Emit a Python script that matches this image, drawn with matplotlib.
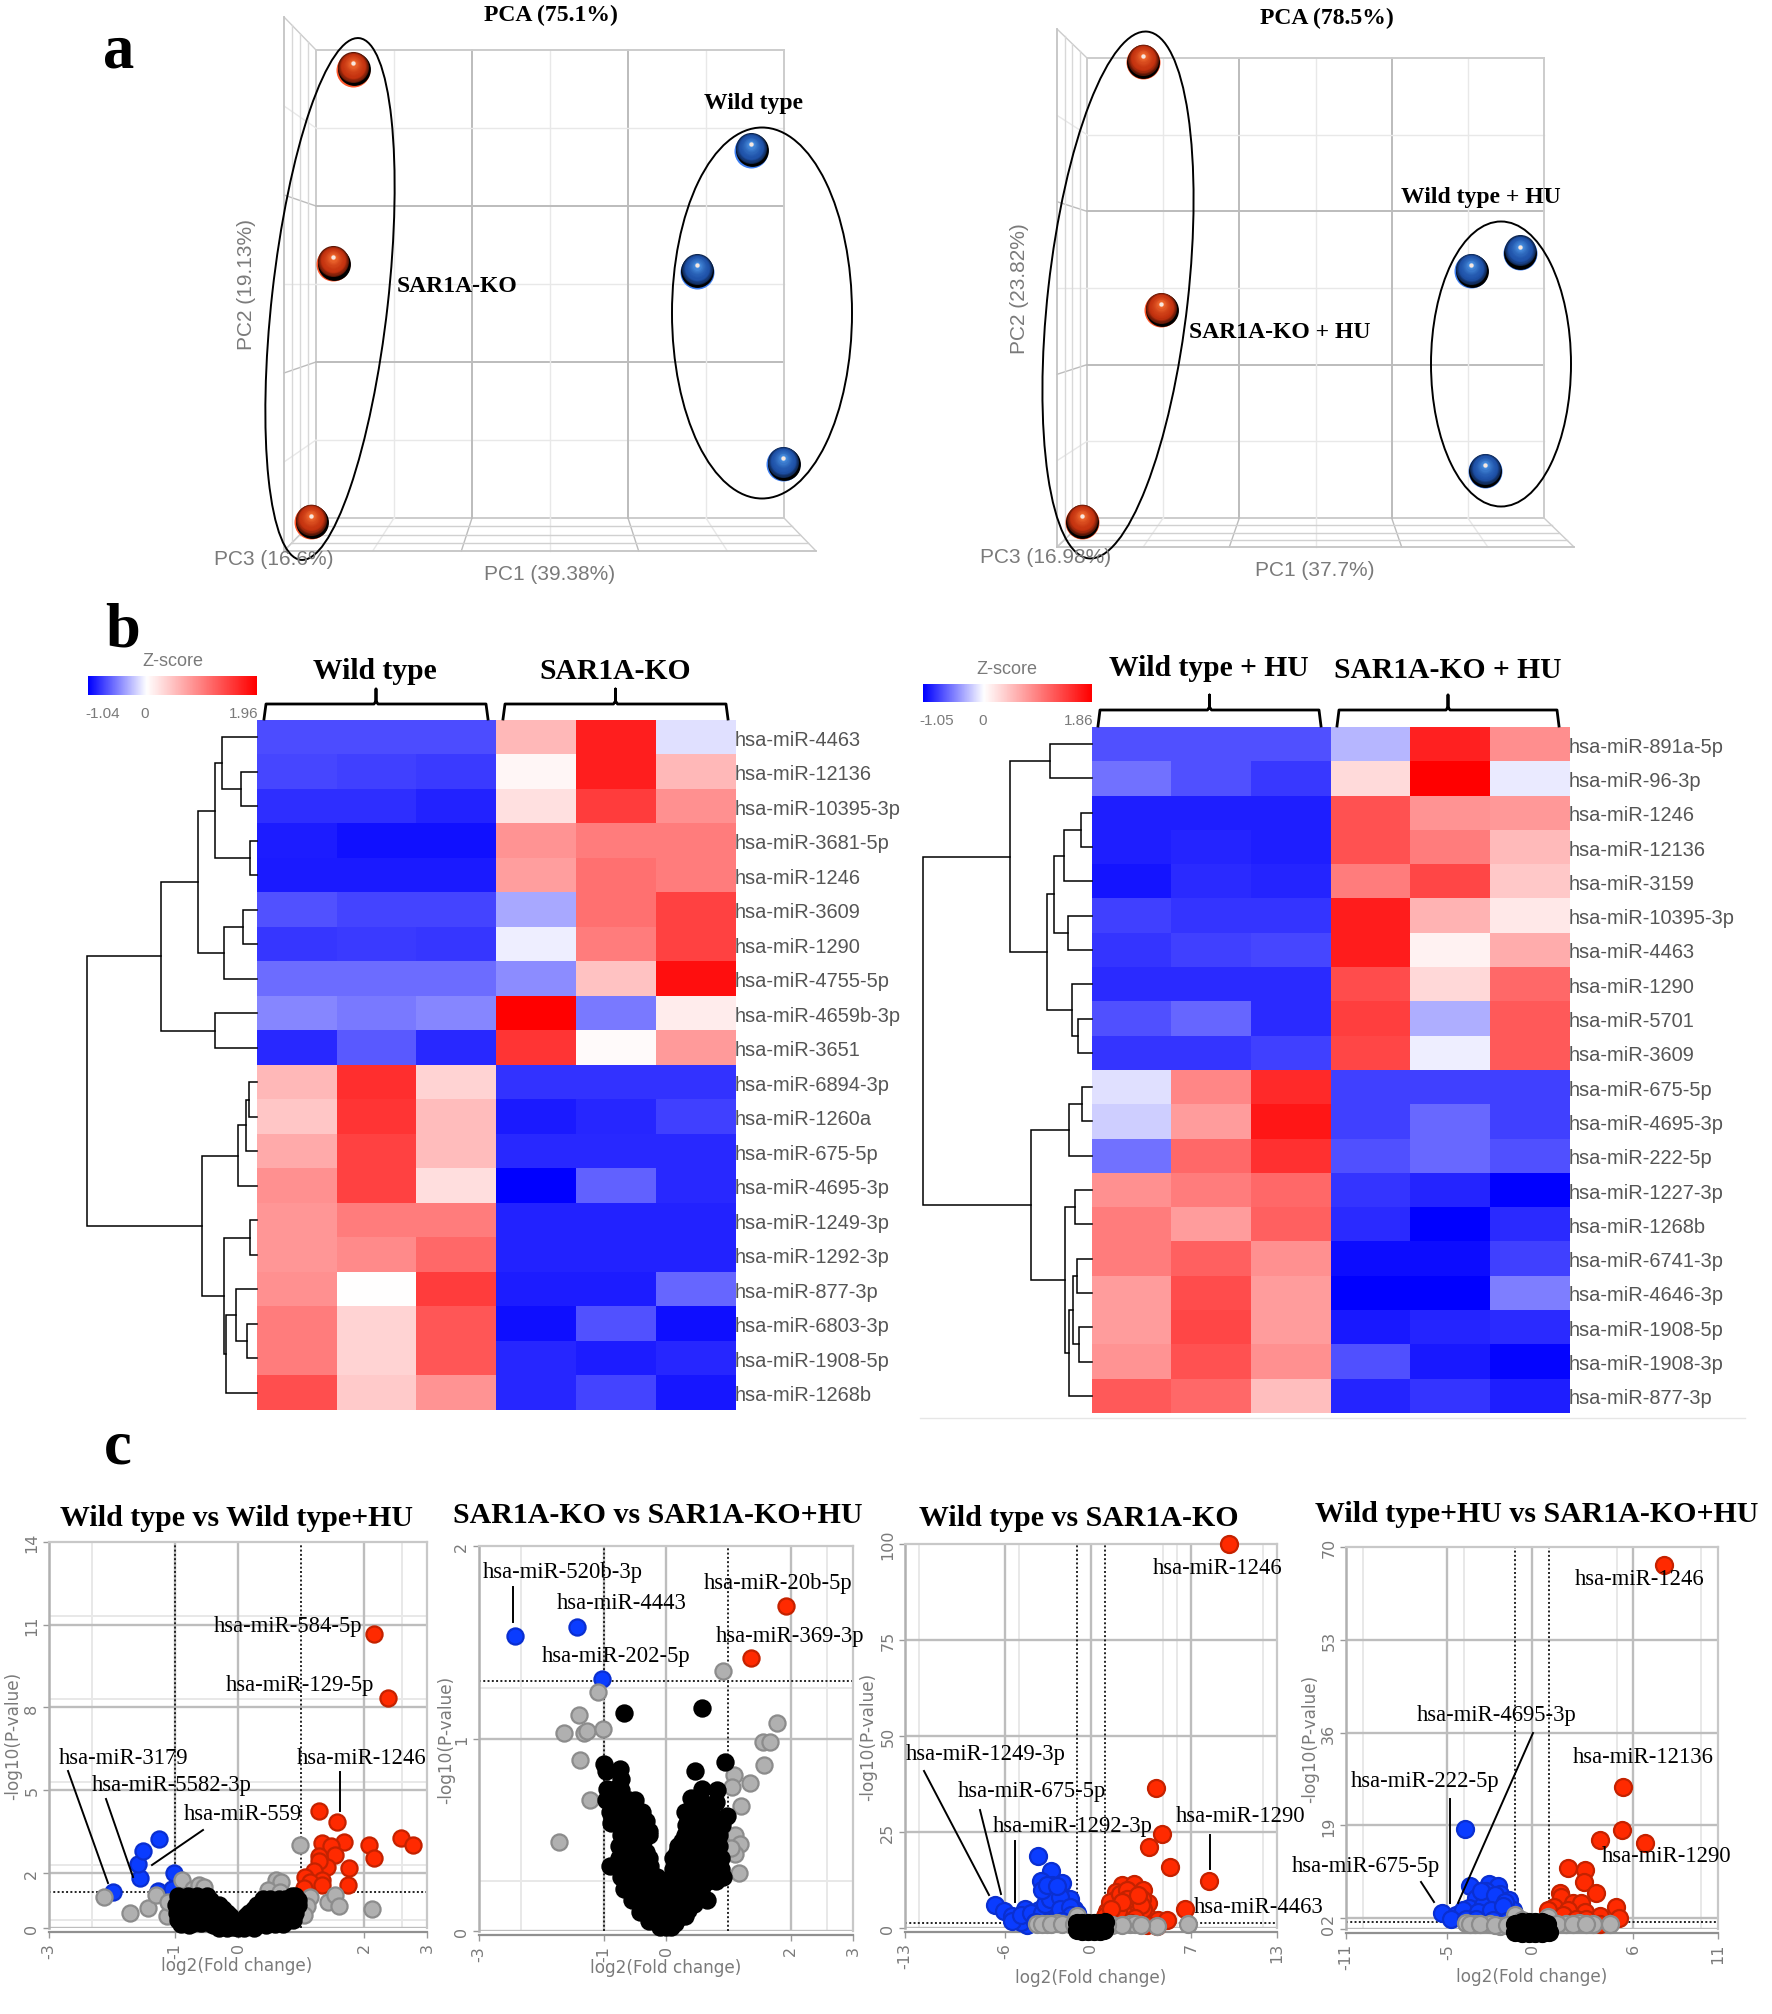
import numpy as np
import matplotlib
matplotlib.use("Agg")
import matplotlib.pyplot as plt
from matplotlib.colors import TwoSlopeNorm, to_rgb
from matplotlib.patches import Ellipse

W, H = 1772, 2015
SERIF = "Liberation Serif"
SANS = "Liberation Sans"
GREY = "#7a7a7a"

# --- panel a: PCA scores, in grid cells of the back wall ---
pca1_red_x = [0.48, 0.22, -0.06]
pca1_red_y = [5.75, 3.26, -0.05]
pca1_blue_x = [5.58, 4.88, 5.99]
pca1_blue_y = [4.71, 3.16, 0.69]
pca2_red_x = [0.73, 0.97, -0.07]
pca2_red_y = [5.95, 2.71, -0.05]
pca2_blue_x = [5.68, 5.04, 5.22]
pca2_blue_y = [3.46, 3.22, 0.61]

# --- panel b: z-scores ---
heat1_labels = ["hsa-miR-4463", "hsa-miR-12136", "hsa-miR-10395-3p", "hsa-miR-3681-5p", "hsa-miR-1246",
                "hsa-miR-3609", "hsa-miR-1290", "hsa-miR-4755-5p", "hsa-miR-4659b-3p", "hsa-miR-3651",
                "hsa-miR-6894-3p", "hsa-miR-1260a", "hsa-miR-675-5p", "hsa-miR-4695-3p", "hsa-miR-1249-3p",
                "hsa-miR-1292-3p", "hsa-miR-877-3p", "hsa-miR-6803-3p", "hsa-miR-1908-5p", "hsa-miR-1268b"]
heat1_values = [
    [-0.73, -0.73, -0.73, 0.55, 1.73, -0.13],
    [-0.75, -0.78, -0.80, 0.07, 1.73, 0.55],
    [-0.85, -0.85, -0.90, 0.24, 1.50, 0.85],
    [-0.92, -0.97, -0.97, 0.82, 1.00, 1.00],
    [-0.93, -0.93, -0.93, 0.75, 1.10, 1.00],
    [-0.70, -0.76, -0.76, -0.35, 1.10, 1.45],
    [-0.82, -0.80, -0.82, -0.07, 1.00, 1.45],
    [-0.60, -0.60, -0.60, -0.47, 0.47, 1.85],
    [-0.49, -0.54, -0.49, 1.96, -0.54, 0.14],
    [-0.87, -0.67, -0.87, 1.55, 0.04, 0.78],
    [0.55, 1.60, 0.33, -0.83, -0.83, -0.83],
    [0.43, 1.55, 0.52, -0.93, -0.88, -0.78],
    [0.65, 1.45, 0.52, -0.87, -0.87, -0.87],
    [0.85, 1.45, 0.25, -1.04, -0.64, -0.87],
    [0.80, 1.00, 1.00, -0.90, -0.90, -0.90],
    [0.80, 0.90, 1.15, -0.90, -0.90, -0.90],
    [0.85, 0.00, 1.50, -0.92, -0.92, -0.62],
    [1.00, 0.33, 1.30, -0.98, -0.70, -0.98],
    [1.00, 0.33, 1.30, -0.88, -0.92, -0.88],
    [1.35, 0.40, 0.82, -0.88, -0.76, -0.95],
]
heat2_labels = ["hsa-miR-891a-5p", "hsa-miR-96-3p", "hsa-miR-1246", "hsa-miR-12136", "hsa-miR-3159",
                "hsa-miR-10395-3p", "hsa-miR-4463", "hsa-miR-1290", "hsa-miR-5701", "hsa-miR-3609",
                "hsa-miR-675-5p", "hsa-miR-4695-3p", "hsa-miR-222-5p", "hsa-miR-1227-3p", "hsa-miR-1268b",
                "hsa-miR-6741-3p", "hsa-miR-4646-3p", "hsa-miR-1908-5p", "hsa-miR-1908-3p", "hsa-miR-877-3p"]
heat2_values = [
    [-0.72, -0.72, -0.72, -0.30, 1.62, 0.82],
    [-0.58, -0.72, -0.82, 0.27, 1.86, -0.09],
    [-0.92, -0.92, -0.92, 1.25, 0.78, 0.75],
    [-0.92, -0.90, -0.92, 1.25, 0.95, 0.50],
    [-0.96, -0.87, -0.90, 0.95, 1.35, 0.40],
    [-0.78, -0.83, -0.83, 1.65, 0.55, 0.17],
    [-0.83, -0.78, -0.76, 1.65, 0.10, 0.60],
    [-0.87, -0.87, -0.87, 1.30, 0.28, 1.10],
    [-0.72, -0.63, -0.87, 1.40, -0.33, 1.20],
    [-0.83, -0.83, -0.78, 1.35, -0.07, 1.20],
    [-0.13, 0.88, 1.55, -0.78, -0.78, -0.78],
    [-0.20, 0.72, 1.70, -0.78, -0.62, -0.78],
    [-0.58, 1.10, 1.50, -0.72, -0.62, -0.72],
    [0.80, 0.95, 1.10, -0.83, -0.90, -1.05],
    [0.95, 0.72, 1.15, -0.87, -1.05, -0.87],
    [0.95, 1.15, 0.80, -1.00, -1.00, -0.78],
    [0.72, 1.30, 0.72, -1.05, -1.05, -0.53],
    [0.72, 1.35, 0.72, -0.95, -0.90, -0.87],
    [0.78, 1.25, 0.80, -0.72, -0.95, -1.03],
    [1.20, 1.10, 0.47, -0.90, -0.83, -0.92],
]
# dendrograms as (height, left, right), leaves are row numbers
tree1 = (300, (170, (105, (75, (62, 0, (29, 1, 2)), (12, 3, 4)), (58, (24, 5, 6), 7)), (75, 8, 9)),
         (97, (34, (19, (14, 10, 11), 12), 13),
          (58, (12, 14, 15), (54, (37, 16, (17, 17, 18)), 19))))
tree2 = (300, (145, (74, 0, 1), (80, (68, (50, (20, 2, 3), 4), (42, 5, 6)), (35, 7, (24, 8, 9)))),
         (108, (40, (18, 10, 11), 12),
          (47, (30, 13, 14), (41, (34, (26, 15, 16), (23, 17, 18)), 19))))

# --- panel c: volcano plots ---
v1_red = [(2.16, 10.67), (2.38, 8.34), (1.29, 4.25), (1.57, 3.83), (2.58, 3.28), (2.77, 3.0), (2.08, 3.0),
          (2.16, 2.54), (1.76, 2.17), (1.75, 1.57), (1.69, 3.12), (1.33, 3.07), (1.47, 2.97), (1.54, 2.66),
          (1.29, 2.6), (1.41, 2.23), (1.29, 2.42), (1.2, 2.07), (1.06, 1.86), (1.33, 1.73), (1.15, 1.67),
          (1.05, 1.46), (1.33, 1.57)]
v1_blue = [(-1.99, 1.31), (-1.55, 1.82), (-1.59, 2.32), (-1.51, 2.79), (-1.26, 3.21), (-1.01, 1.98),
           (-1.27, 1.34), (-1.05, 1.43)]
v1_grey = [(-2.13, 1.13), (-1.72, 0.55), (-1.43, 0.71), (-1.13, 0.42), (-1.3, 1.2), (-1.11, 0.95), (-0.89, 1.73),
           (-0.72, 1.43), (-0.62, 1.57), (-0.54, 1.49), (0.98, 3.02), (0.61, 1.73), (0.69, 1.67), (0.48, 1.39),
           (0.66, 1.3), (1.15, 1.12), (1.09, 0.81), (1.05, 0.46), (1.43, 0.93), (1.54, 1.2), (1.61, 0.81), (2.12, 0.68)]
v1_black = [(-0.95, 1.15), (-0.8, 1.15), (-0.65, 1.15), (-0.5, 1.15),
            (-0.98, 0.85), (-0.85, 0.85), (-0.7, 0.85), (-0.55, 0.85), (-0.4, 0.85), (-0.3, 0.85),
            (-0.97, 0.55), (-0.85, 0.55), (-0.7, 0.55), (-0.55, 0.55), (-0.4, 0.55), (-0.28, 0.55), (-0.18, 0.55),
            (-0.95, 0.28), (-0.8, 0.28), (-0.65, 0.28), (-0.5, 0.28), (-0.35, 0.28), (-0.25, 0.28), (-0.15, 0.28),
            (-0.08, 0.28), (-0.4, 0.1), (-0.28, 0.1), (-0.18, 0.1), (-0.08, 0.05), (0.0, 0.0),
            (0.85, 1.15), (0.9, 1.15), (0.4, 1.05), (0.5, 1.05), (0.65, 1.05), (0.75, 1.05),
            (0.3, 0.85), (0.42, 0.85), (0.55, 0.85), (0.7, 0.85), (0.85, 0.85), (0.95, 0.85),
            (0.18, 0.55), (0.3, 0.55), (0.45, 0.55), (0.6, 0.55), (0.75, 0.55), (0.9, 0.55),
            (0.08, 0.28), (0.2, 0.28), (0.35, 0.28), (0.5, 0.28), (0.65, 0.28), (0.8, 0.28),
            (0.05, 0.08), (0.15, 0.1), (0.3, 0.1), (0.45, 0.1),
            (-0.88, 1.0), (-0.72, 1.0), (-0.58, 1.0), (-0.45, 1.0), (-0.9, 0.7), (-0.78, 0.7), (-0.62, 0.7), (-0.47, 0.7),
            (-0.34, 0.7), (-0.24, 0.7), (-0.9, 0.42), (-0.78, 0.42), (-0.62, 0.42), (-0.47, 0.42), (-0.33, 0.42),
            (-0.22, 0.42), (-0.12, 0.42), (-0.72, 0.18), (-0.58, 0.18), (-0.45, 0.18), (-0.3, 0.0), (-0.18, 0.0),
            (0.1, 0.0), (0.25, 0.0), (0.25, 0.7), (0.35, 0.7), (0.48, 0.7), (0.62, 0.7), (0.78, 0.7), (0.9, 0.7),
            (0.12, 0.42), (0.24, 0.42), (0.38, 0.42), (0.52, 0.42), (0.68, 0.42), (0.82, 0.42), (0.58, 0.14),
            (0.72, 0.14), (0.88, 0.28), (0.95, 1.0), (0.48, 0.98), (0.62, 0.98), (0.75, 0.95), (0.88, 1.0),
            (-0.9, 0.15), (-0.78, 0.12)]

v2_red = [(1.93, 1.69), (1.37, 1.42)]
v2_blue = [(-2.43, 1.53), (-1.42, 1.58), (-1.02, 1.31)]
v2_grey = [(0.91, 1.35), (-1.09, 1.24), (-1.39, 1.12), (-1.64, 1.03), (-1.32, 1.03), (-1.27, 1.04), (-1.01, 1.05),
           (-1.38, 0.89), (-1.22, 0.68), (-1.71, 0.46), (1.78, 1.08), (1.55, 0.98), (1.67, 0.98), (1.57, 0.86),
           (1.09, 0.81), (1.35, 0.77), (1.06, 0.75), (1.21, 0.65), (1.11, 0.5), (1.18, 0.45), (1.1, 0.4),
           (1.04, 0.43), (1.17, 0.3)]
v2_black = [(-0.67, 1.13), (0.58, 1.16), (-1.0, 0.87), (-0.97, 0.83), (-0.74, 0.84), (-0.72, 0.79), (-0.95, 0.74),
            (-0.82, 0.74), (-0.72, 0.73), (-0.8, 0.7), (-0.97, 0.68), (-0.9, 0.68), (-0.85, 0.65), (-0.6, 0.68),
            (-0.5, 0.68), (-0.9, 0.62), (-0.82, 0.6), (-0.52, 0.62), (-0.6, 0.6), (-0.32, 0.57), (-0.27, 0.52),
            (0.95, 0.88), (0.47, 0.83), (0.58, 0.74), (0.82, 0.73), (0.4, 0.69), (0.8, 0.67), (0.3, 0.62),
            (0.48, 0.65), (0.7, 0.62), (0.98, 0.6), (0.88, 0.58),
            (-0.72, 0.5), (-0.6, 0.5), (-0.48, 0.5), (-0.28, 0.5),
            (-0.75, 0.44), (-0.62, 0.44), (-0.5, 0.44), (-0.38, 0.44),
            (-0.75, 0.38), (-0.62, 0.38), (-0.5, 0.38), (-0.38, 0.38), (-0.27, 0.38),
            (-0.9, 0.34), (-0.75, 0.34), (-0.62, 0.34), (-0.5, 0.34), (-0.37, 0.34), (-0.25, 0.34),
            (-0.72, 0.28), (-0.6, 0.28), (-0.48, 0.28), (-0.36, 0.28), (-0.24, 0.28), (-0.14, 0.28),
            (-0.68, 0.22), (-0.56, 0.22), (-0.44, 0.22), (-0.32, 0.22), (-0.22, 0.22), (-0.12, 0.22),
            (-0.55, 0.16), (-0.44, 0.16), (-0.32, 0.16), (-0.22, 0.16), (-0.12, 0.16), (-0.05, 0.16),
            (-0.42, 0.1), (-0.3, 0.1), (-0.2, 0.1), (-0.1, 0.1), (-0.03, 0.1),
            (-0.28, 0.05), (-0.18, 0.05), (-0.08, 0.05), (0.0, 0.05), (-0.1, 0.02), (0.0, 0.02), (0.08, 0.02),
            (0.32, 0.55), (0.42, 0.55), (0.55, 0.55), (0.7, 0.55), (0.9, 0.55),
            (0.3, 0.5), (0.42, 0.5), (0.55, 0.5), (0.7, 0.5), (0.85, 0.5),
            (0.2, 0.44), (0.3, 0.44), (0.42, 0.44), (0.55, 0.44), (0.7, 0.44), (0.85, 0.44),
            (0.12, 0.38), (0.25, 0.38), (0.38, 0.38), (0.5, 0.38), (0.62, 0.38), (0.75, 0.38), (0.88, 0.38),
            (0.12, 0.32), (0.25, 0.32), (0.38, 0.32), (0.5, 0.32), (0.62, 0.32), (0.75, 0.32), (0.88, 0.32),
            (0.92, 0.28), (0.06, 0.26), (0.18, 0.26), (0.3, 0.26), (0.42, 0.26), (0.55, 0.26), (0.68, 0.26), (0.8, 0.26),
            (0.06, 0.2), (0.16, 0.2), (0.28, 0.2), (0.4, 0.2), (0.52, 0.2), (0.65, 0.16),
            (0.03, 0.14), (0.14, 0.14), (0.25, 0.14), (0.35, 0.14), (0.45, 0.14),
            (0.03, 0.08), (0.12, 0.08), (0.22, 0.08), (0.3, 0.08), (0.05, 0.04), (0.15, 0.04),
            (-0.88, 0.56), (-0.75, 0.62), (-0.68, 0.66), (-0.45, 0.6), (-0.38, 0.62), (-0.72, 0.56), (-0.6, 0.55),
            (-0.5, 0.56), (-0.42, 0.5), (-0.35, 0.48), (-0.66, 0.47), (-0.54, 0.47), (-0.42, 0.47), (-0.68, 0.41),
            (-0.56, 0.41), (-0.44, 0.41), (-0.32, 0.41), (-0.68, 0.31), (-0.56, 0.31), (-0.44, 0.31), (-0.3, 0.31),
            (-0.62, 0.25), (-0.5, 0.25), (-0.38, 0.25), (-0.26, 0.25), (-0.5, 0.19), (-0.38, 0.19), (-0.27, 0.19),
            (-0.17, 0.19), (-0.36, 0.13), (-0.25, 0.13), (-0.15, 0.13), (-0.07, 0.13), (-0.24, 0.07), (-0.14, 0.07),
            (-0.05, 0.07), (0.35, 0.58), (0.45, 0.6), (0.55, 0.62), (0.62, 0.66), (0.75, 0.58), (0.85, 0.56),
            (0.36, 0.53), (0.48, 0.53), (0.62, 0.53), (0.78, 0.53), (0.25, 0.47), (0.36, 0.47), (0.48, 0.47),
            (0.62, 0.47), (0.78, 0.47), (0.18, 0.41), (0.31, 0.41), (0.44, 0.41), (0.56, 0.41), (0.68, 0.41),
            (0.82, 0.41), (0.18, 0.35), (0.31, 0.35), (0.44, 0.35), (0.56, 0.35), (0.68, 0.35), (0.82, 0.35),
            (0.12, 0.29), (0.24, 0.29), (0.36, 0.29), (0.48, 0.29), (0.62, 0.29), (0.74, 0.29), (0.11, 0.23),
            (0.22, 0.23), (0.34, 0.23), (0.46, 0.23), (0.58, 0.23), (0.09, 0.17), (0.2, 0.17), (0.3, 0.17),
            (0.4, 0.17), (0.5, 0.17), (0.08, 0.11), (0.18, 0.11), (0.28, 0.11), (0.36, 0.11), (0.09, 0.06), (0.18, 0.06)]

v3_red = [(9.65, 100), (4.56, 36.4), (4.95, 24.4), (4.02, 21.2), (5.49, 15.8), (8.28, 12.2), (6.58, 5),
          (2.14, 11.3), (3.02, 11.4), (3.65, 10), (1.74, 9.3), (2.88, 8.4), (1.67, 7.4), (4, 6.4), (2.49, 5.8),
          (3.14, 4.4), (1.09, 4.4), (1.56, 3.1), (1.9, 2.7), (3.88, 3.1), (4.7, 2.2), (5.33, 2.2), (2.95, 6.7),
          (1.33, 6.7), (2.02, 8.9), (3.53, 7.6), (2.49, 9.8), (3.88, 0.9), (4.58, 0.4), (3.65, 4.9),
          (2.4, 3.5), (3.0, 2.2), (1.2, 2.0), (2.2, 1.5), (1.0, 3), (1.9, 4.5), (2.5, 7.5), (3.5, 6), (3.1, 2.7),
          (2.8, 1.2), (3.3, 8.5), (2.2, 6.9), (1.4, 5)]
v3_blue = [(-3.7, 18.8), (-2.81, 14.8), (-3.49, 12.2), (-2.72, 11.3), (-2.05, 11.6), (-2.12, 6.7), (-6.7, 6),
           (-6.07, 4.3), (-5.07, 2.7), (-4.58, 4.9), (-3.6, 4.7), (-2.63, 8), (-1.47, 7.6), (-1.19, 4.9), (-2.98, 4.9),
           (-2.28, 9.3), (-3.09, 8.9), (-1.93, 5.8), (-5.53, 3.1), (-4.49, 0.9), (-4.02, 2.2), (-2.63, 3.1),
           (-1.7, 3.1), (-1, 4), (-0.77, 2.2), (-3.33, 2.7), (-2.05, 4), (-4.9, 1.6), (-3.0, 6.5), (-1.2, 2.0),
           (-5.5, 1.8), (-4.9, 3.5), (-4.2, 3.8), (-3.4, 3.8), (-3.2, 6.3), (-2.9, 7.5), (-2.2, 8.0), (-2.2, 4.9),
           (-1.5, 5.5), (-1.4, 3.5), (-3.4, 9.9), (-3.1, 11.2), (-2.4, 11), (-3.9, 1.5), (-3, 1.5), (-2, 1.8)]
v3_grey = [(-3.8, 1.0), (-3.1, 1.0), (-2.4, 1.2), (-1.5, 1.0), (-1.0, 3.0), (-0.3, 1.4), (1.5, 0.8), (2.7, 1.1),
           (3.1, 1.1), (4.6, 0.5), (6.8, 1.1), (-3.45, 1), (-2.8, 1.1), (-2, 1), (-1.2, 1), (2.2, 0.9), (3.5, 0.8), (1.1, 0.7)]
v3_black = [(-1.0, 1.2), (-0.6, 1.4), (-0.2, 1.2), (0.2, 1.4), (0.6, 1.4), (1.0, 1.6), (-1.0, -0.6), (-0.6, -0.8),
            (-0.2, -0.8), (0.2, -0.8), (0.6, -0.8), (0.9, -0.6), (-0.8, 0.3), (-0.3, 0.3), (0.3, 0.3), (0.8, 0.3)]

v4_red = [(7.83, 66.7), (5.37, 26.1), (5.33, 18.2), (4.04, 16.3), (6.69, 15.8), (2.11, 11.1), (3.15, 10.8),
          (3.07, 8.6), (3.78, 6.6), (1.65, 6.6), (1.71, 5.9), (1.32, 4.1), (0.93, 3.4), (2.4, 4.7), (2.89, 4.7),
          (2.11, 3.4), (3.15, 3.1), (4.96, 4), (5.16, 2.1), (4.04, 2.3), (1.81, 2.5), (2.6, 1.9), (3.19, 1.9), (4.04, 0.9)]
v4_blue = [(-3.96, 18.4), (-5.33, 3), (-4.49, 2.5), (-3.64, 7.8), (-2.56, 8.25), (-1.99, 7.9), (-3.3, 5.75),
           (-1.89, 6.4), (-2.72, 6.9), (-2.32, 4.8), (-1.34, 5.3), (-3.7, 3.9), (-2.91, 4.4), (-2.03, 3), (-1.14, 3.4),
           (-4.09, 3.4), (-4.78, 1.9), (-1.34, 0.9), (-2.72, 2.5), (-1.54, 3.1), (-3.0, 7.0), (-2.2, 6.3), (-1.6, 5.0),
           (-3.2, 3.2), (-2.4, 3.4), (-1.7, 4.2), (-3.9, 1.8), (-3.3, 1.8), (-2.3, 1.7), (-1.5, 1.5), (-1, 2)]
v4_grey = [(-3.9, 1.1), (-3.4, 0.9), (-2.5, 0.9), (-1.9, 0.6), (-0.98, 2.5), (-0.6, 1.6), (0.93, 2.2), (0.5, 1.3),
           (2.0, 0.9), (2.8, 1.1), (3.6, 0.9), (4.6, 0.9), (-3.65, 0.9), (-3.1, 1.0), (-2.2, 0.8), (-1.5, 0.8),
           (1.5, 0.9), (2.4, 1), (3.2, 1)]
v4_black = [(-1.0, 1.0), (-0.6, 1.3), (-0.2, 1.3), (0.2, 1.3), (0.6, 1.2), (0.9, 0.9), (-1.0, -0.5), (-0.6, -0.7),
            (-0.2, -0.8), (0.2, -0.8), (0.6, -0.7), (1.0, -0.5), (-0.7, 0.3), (-0.2, 0.3), (0.3, 0.3), (0.8, 0.3)]

fig = plt.figure(figsize=(W / 100, H / 100), dpi=100, facecolor="white")


def axes_px(left, top, right, bottom, **kw):
    return fig.add_axes([left / W, 1 - bottom / H, (right - left) / W, (bottom - top) / H], **kw)


over = fig.add_axes([0, 0, 1, 1], zorder=20)
over.set_xlim(0, W)
over.set_ylim(H, 0)
over.axis("off")
over.patch.set_alpha(0)


def serif(x, y, s, size=17, bold=True, ha="center", rotation=0):
    over.text(x, y, s, family=SERIF, fontweight="bold" if bold else "normal", fontsize=size,
              ha=ha, va="center", color="black", rotation=rotation)


def sans(x, y, s, size=15, color=GREY, rotation=0, ha="center"):
    over.text(x, y, s, family=SANS, fontsize=size, ha=ha, va="center", color=color, rotation=rotation)


def sphere(ax, xs, ys, base, light):
    base = np.array(to_rgb(base))
    light = np.array(to_rgb(light))
    ys = np.array(ys)
    ax.scatter(xs, ys, s=600, color=np.clip(base * 1.3 + 0.1, 0, 1), linewidths=0, zorder=5, clip_on=False)
    ax.scatter(np.array(xs) + 0.01, ys + 0.002, s=560, color="black", linewidths=0, zorder=5, clip_on=False)
    for t in np.linspace(0, 1, 14):
        col = base * (0.45 + 0.55 * min(t * 3, 1)) + (light - base) * t ** 3
        ax.scatter(xs, ys + 0.03 + 0.05 * t, s=480 * (1 - t) ** 1.2 + 20,
                   color=np.clip(col, 0, 1), linewidths=0, zorder=6, clip_on=False)
    ax.scatter(xs, ys + 0.08, s=10, color="#f8e8e0", linewidths=0, zorder=7, clip_on=False)


def pca_box(box, wall_dx, top_dy, bottom_dy, floor_dx, red, blue):
    left, top, right, bottom = box
    ax = axes_px(left, top, right, bottom)
    ax.set_xlim(0, 6)
    ax.set_ylim(0, 6)
    ax.axis("off")
    cell_x = (right - left) / 6
    cell_y = (bottom - top) / 6
    lx, by = -wall_dx / cell_x, -bottom_dy / cell_y
    ty = 6 + top_dy / cell_y
    rx = 6 + floor_dx / cell_x
    for i in range(7):
        heavy = i in (2, 4)
        outer = i in (0, 6)
        col = "#bcbcbc" if heavy else ("#cccccc" if outer else "#e8e8e8")
        lw = 1.4 if heavy or outer else 1.0
        ax.plot([i, i], [0, 6], color=col, lw=lw, clip_on=False, zorder=1)
        ax.plot([0, 6], [i, i], color=col, lw=lw, clip_on=False, zorder=1)
        # receding side wall and floor
        ax.plot([0, lx], [i, by + (ty - by) * i / 6], color=col, lw=1, clip_on=False, zorder=1)
        ax.plot([i, lx + (rx - lx) * i / 6], [0, by], color=col, lw=1, clip_on=False, zorder=1)
    for k in range(1, 4):
        ax.plot([lx * k / 4] * 2, [by * k / 4, 6 + (ty - 6) * k / 4], color="#d8d8d8", lw=1, clip_on=False, zorder=1)
        ax.plot([lx * k / 4, 6 + (rx - 6) * k / 4], [by * k / 4] * 2, color="#d0d0d0", lw=1, clip_on=False, zorder=1)
    ax.plot([lx, lx], [by, ty], color="#c4c4c4", lw=1.3, clip_on=False, zorder=1)
    ax.plot([lx, rx], [by, by], color="#c4c4c4", lw=1.3, clip_on=False, zorder=1)
    sphere(ax, red[0], red[1], "#c2300e", "#f06a30")
    sphere(ax, blue[0], blue[1], "#1d4fa6", "#4a90e0")
    return ax


pca_box((316, 51, 784, 519), 32, 33, 33, 32, (pca1_red_x, pca1_red_y), (pca1_blue_x, pca1_blue_y))
pca_box((1087, 59, 1544, 519), 30, 29, 29, 30, (pca2_red_x, pca2_red_y), (pca2_blue_x, pca2_blue_y))

for cx, cy, w_, h_, ang in [(330, 300, 116, 525, 6.4), (762, 314, 180, 371, 0),
                            (1118, 296, 140, 530, 6.4), (1501, 365, 140, 285, 0)]:
    over.add_patch(Ellipse((cx, cy), w_, h_, angle=ang, fill=False, ec="black", lw=1.4))

serif(551, 15, "PCA (75.1%)")
serif(1327, 18, "PCA (78.5%)")
serif(754, 103, "Wild type")
serif(397, 287, "SAR1A-KO", ha="left")
serif(1481, 198, "Wild type + HU")
serif(1189, 333, "SAR1A-KO + HU", ha="left")
sans(550, 575, "PC1 (39.38%)")
sans(247, 285, "PC2 (19.13%)", rotation=90)
sans(274, 560, "PC3 (16.6%)")
sans(1315, 571, "PC1 (37.7%)")
sans(1020, 289, "PC2 (23.82%)", rotation=90)
sans(1046, 558, "PC3 (16.98%)")

serif(119, 53, "a", size=45)
serif(123, 632, "b", size=45)
serif(118, 1449, "c", size=45)


def draw_tree(ax, node):
    if not isinstance(node, tuple):
        return node + 0.5, 0
    height, a, b = node
    ya, ha_ = draw_tree(ax, a)
    yb, hb = draw_tree(ax, b)
    ax.plot([ha_, height, height, hb], [ya, ya, yb, yb], color="black", lw=1.1,
            solid_joinstyle="miter", clip_on=False)
    return (ya + yb) / 2, height


def heatmap(box, values, labels, tree, vmin, vmax, bar, ticks):
    left, top, right, bottom = box
    norm = TwoSlopeNorm(vcenter=0, vmin=vmin, vmax=vmax)
    ax = axes_px(left, top, right, bottom)
    ax.imshow(np.array(values), cmap="bwr", norm=norm, aspect="auto", interpolation="nearest",
              extent=(0, 6, 20, 0))
    ax.set_xticks([])
    ax.yaxis.tick_right()
    ax.set_yticks(np.arange(20) + 0.5, labels, family=SANS, fontsize=14.4, color="#555555")
    ax.tick_params(axis="y", length=0, pad=-1)
    for s in ax.spines.values():
        s.set_visible(False)

    dax = axes_px(left - 169.5, top, left, bottom)
    dax.set_xlim(300, 0)
    dax.set_ylim(20, 0)
    dax.axis("off")
    draw_tree(dax, tree)

    cax = axes_px(*bar)
    cax.imshow(np.linspace(vmin, vmax, 256)[None, :], cmap="bwr", norm=norm, aspect="auto")
    cax.axis("off")
    for x, s in ticks:
        sans(x, bar[3] + 18, s, size=11)
    sans((bar[0] + bar[2]) / 2, bar[1] - 15, "Z-score", size=13)


heatmap((257, 721, 736, 1411), heat1_values, heat1_labels, tree1, -1.04, 1.96, (88, 677, 257, 696),
        [(103, "-1.04"), (145, "0"), (244, "1.96")])
heatmap((1092, 728, 1570, 1414), heat2_values, heat2_labels, tree2, -1.05, 1.86, (923, 685, 1091, 703),
        [(937, "-1.05"), (983, "0"), (1079, "1.86")])
over.plot([920, 1745], [1419, 1419], color="#e6e6e6", lw=1)


def bracket(x0, x1, top, bottom, peak):
    mid = (x0 + x1) / 2
    over.plot([x0, x0 + 2, mid - 2, mid, mid, mid, mid + 2, x1 - 2, x1],
              [bottom, top, top, top - 3, peak, top - 3, top, top, bottom],
              color="black", lw=2)


bracket(264, 488, 705, 720, 690)
bracket(503, 728, 705, 720, 690)
bracket(1098, 1321, 711, 727, 696)
bracket(1337, 1559, 711, 727, 696)
serif(375, 672, "Wild type", size=21.3)
serif(615, 672, "SAR1A-KO", size=21.3)
serif(1209, 669, "Wild type + HU", size=21.3)
serif(1448, 671, "SAR1A-KO + HU", size=21.3)


def volcano(box, xlim, ylim, xticks, yticks, xminor, yminor, xcut, ycut, red, blue, grey, black, ylab_x, xlab, ms=135):
    left, top, right, bottom = box
    ax = axes_px(left, top, right, bottom)
    ax.set_xlim(*xlim)
    ax.set_ylim(*ylim)
    for x in xminor:
        ax.axvline(x, color="#e8e8e8", lw=1.4, zorder=1)
    for y in yminor:
        ax.axhline(y, color="#e8e8e8", lw=1.4, zorder=1)
    for x in xticks[1:-1]:
        ax.axvline(x, color="#bdbdbd", lw=1.7, zorder=1)
    for y in yticks[1:-1]:
        ax.axhline(y, color="#bdbdbd", lw=1.7, zorder=1)
    ax.axhline(ylim[0], color="#bdbdbd", lw=1.7, zorder=1)
    for x in xcut:
        ax.axvline(x, color="#222222", lw=1.4, ls=(0, (1, 1.2)), zorder=2)
    ax.axhline(ycut, color="#222222", lw=1.4, ls=(0, (1, 1.2)), zorder=2)
    for pts, face, edge, z in [(red, "#ff2a00", "#c42200", 3), (blue, "#0a3cff", "#0a2fd0", 3),
                               (grey, "#b0b0b0", "#8c8c8c", 4), (black, "black", "black", 5)]:
        xs, ys = zip(*pts)
        ax.scatter(xs, ys, s=ms, c=face, edgecolors=edge, linewidths=1.6, zorder=z, clip_on=False)
    for name in ("top", "right"):
        ax.spines[name].set_color("#c8c8c8")
        ax.spines[name].set_linewidth(1.6)
    ax.spines["left"].set_color("#b0b0b0")
    ax.spines["left"].set_linewidth(1.8)
    ax.spines["bottom"].set_color("#909090")
    ax.spines["bottom"].set_linewidth(1.6)
    ax.spines["bottom"].set_position(("outward", 3))
    ax.set_xticks(xticks, [str(t) for t in xticks], rotation=90)
    ax.set_yticks(yticks, [str(t) for t in yticks], rotation=90, va="center")
    ax.tick_params(length=4, width=1, color="#999999", labelcolor=GREY, labelsize=11.5, pad=3)
    for lab in ax.get_xticklabels() + ax.get_yticklabels():
        lab.set_family("DejaVu Sans")
    over.text(xlab[0], xlab[1], "log2(Fold change)", family="DejaVu Sans", fontsize=12.2, color=GREY,
              ha="center", va="center")
    over.text(ylab_x, (top + bottom) / 2, "-log10(P-value)", family="DejaVu Sans", fontsize=12.2, color=GREY,
              ha="center", va="center", rotation=90)


volcano((49, 1543, 427, 1929), (-3, 3), (0, 14), [-3, -1, 0, 2, 3], [0, 2, 5, 8, 11, 14],
        [-2.32, 2.6], [0.3, 2.3, 5.3, 8.3, 11.3], [-1, 1], 1.3, v1_red, v1_blue, v1_grey, v1_black, 13, (237, 1966))
volcano((479, 1547, 853, 1932), (-3, 3), (0, 2), [-3, -1, 0, 2, 3], [0, 1, 2],
        [-2.32, 2.59], [0.26, 1.264], [-1, 1], 1.3, v2_red, v2_blue, v2_grey, v2_black, 446, (666, 1968))
volcano((905, 1545, 1277, 1929), (-13, 13), (0, 100), [-13, -6, 0, 7, 13], [0, 25, 50, 75, 100],
        [-12, -5, 5, 6, 12], [], [-1, 1], 1.3, v3_red, v3_blue, v3_grey, v3_black, 868, (1091, 1978), ms=150)
volcano((1346, 1548, 1718, 1930), (-11, 11), (0, 70), [-11, -5, 0, 6, 11], [0, 2, 19, 36, 53, 70],
        [-10, -4, 5, 10], [], [-1, 1], 1.25, v4_red, v4_blue, v4_grey, v4_black, 1310, (1532, 1977), ms=150)

serif(237, 1519, "Wild type vs Wild type+HU", size=21.5)
serif(658, 1516, "SAR1A-KO vs SAR1A-KO+HU", size=21.5)
serif(1079, 1519, "Wild type vs SAR1A-KO", size=21.5)
serif(1537, 1515, "Wild type+HU vs SAR1A-KO+HU", size=21.5)

for x, y, s in [(214, 1627, "hsa-miR-584-5p"), (226, 1686, "hsa-miR-129-5p"), (59, 1759, "hsa-miR-3179"),
                (92, 1786, "hsa-miR-5582-3p"), (184, 1815, "hsa-miR-559"), (297, 1759, "hsa-miR-1246"),
                (483, 1573, "hsa-miR-520b-3p"), (557, 1604, "hsa-miR-4443"), (704, 1584, "hsa-miR-20b-5p"),
                (716, 1637, "hsa-miR-369-3p"), (542, 1657, "hsa-miR-202-5p"),
                (1153, 1569, "hsa-miR-1246"), (906, 1755, "hsa-miR-1249-3p"), (958, 1792, "hsa-miR-675-5p"),
                (993, 1827, "hsa-miR-1292-3p"), (1176, 1817, "hsa-miR-1290"), (1194, 1908, "hsa-miR-4463"),
                (1575, 1580, "hsa-miR-1246"), (1417, 1716, "hsa-miR-4695-3p"), (1573, 1758, "hsa-miR-12136"),
                (1351, 1782, "hsa-miR-222-5p"), (1292, 1867, "hsa-miR-675-5p"), (1602, 1857, "hsa-miR-1290")]:
    serif(x, y, s, size=16.3, bold=False, ha="left")

for (x0, y0), (x1, y1) in [((68, 1772), (108, 1884)), ((106, 1800), (133, 1878)), ((203, 1831), (152, 1866)),
                           ((340, 1773), (340, 1812)), ((513, 1588), (513, 1623)),
                           ((924, 1772), (989, 1896)), ((980, 1811), (1001, 1895)), ((1015, 1842), (1015, 1903)),
                           ((1210, 1836), (1210, 1870)), ((1533, 1734), (1458, 1904)), ((1450, 1800), (1450, 1904)),
                           ((1421, 1883), (1434, 1903))]:
    over.plot([x0, x1], [y0, y1], color="black", lw=1.4)

fig.savefig("out.png", dpi=100)
